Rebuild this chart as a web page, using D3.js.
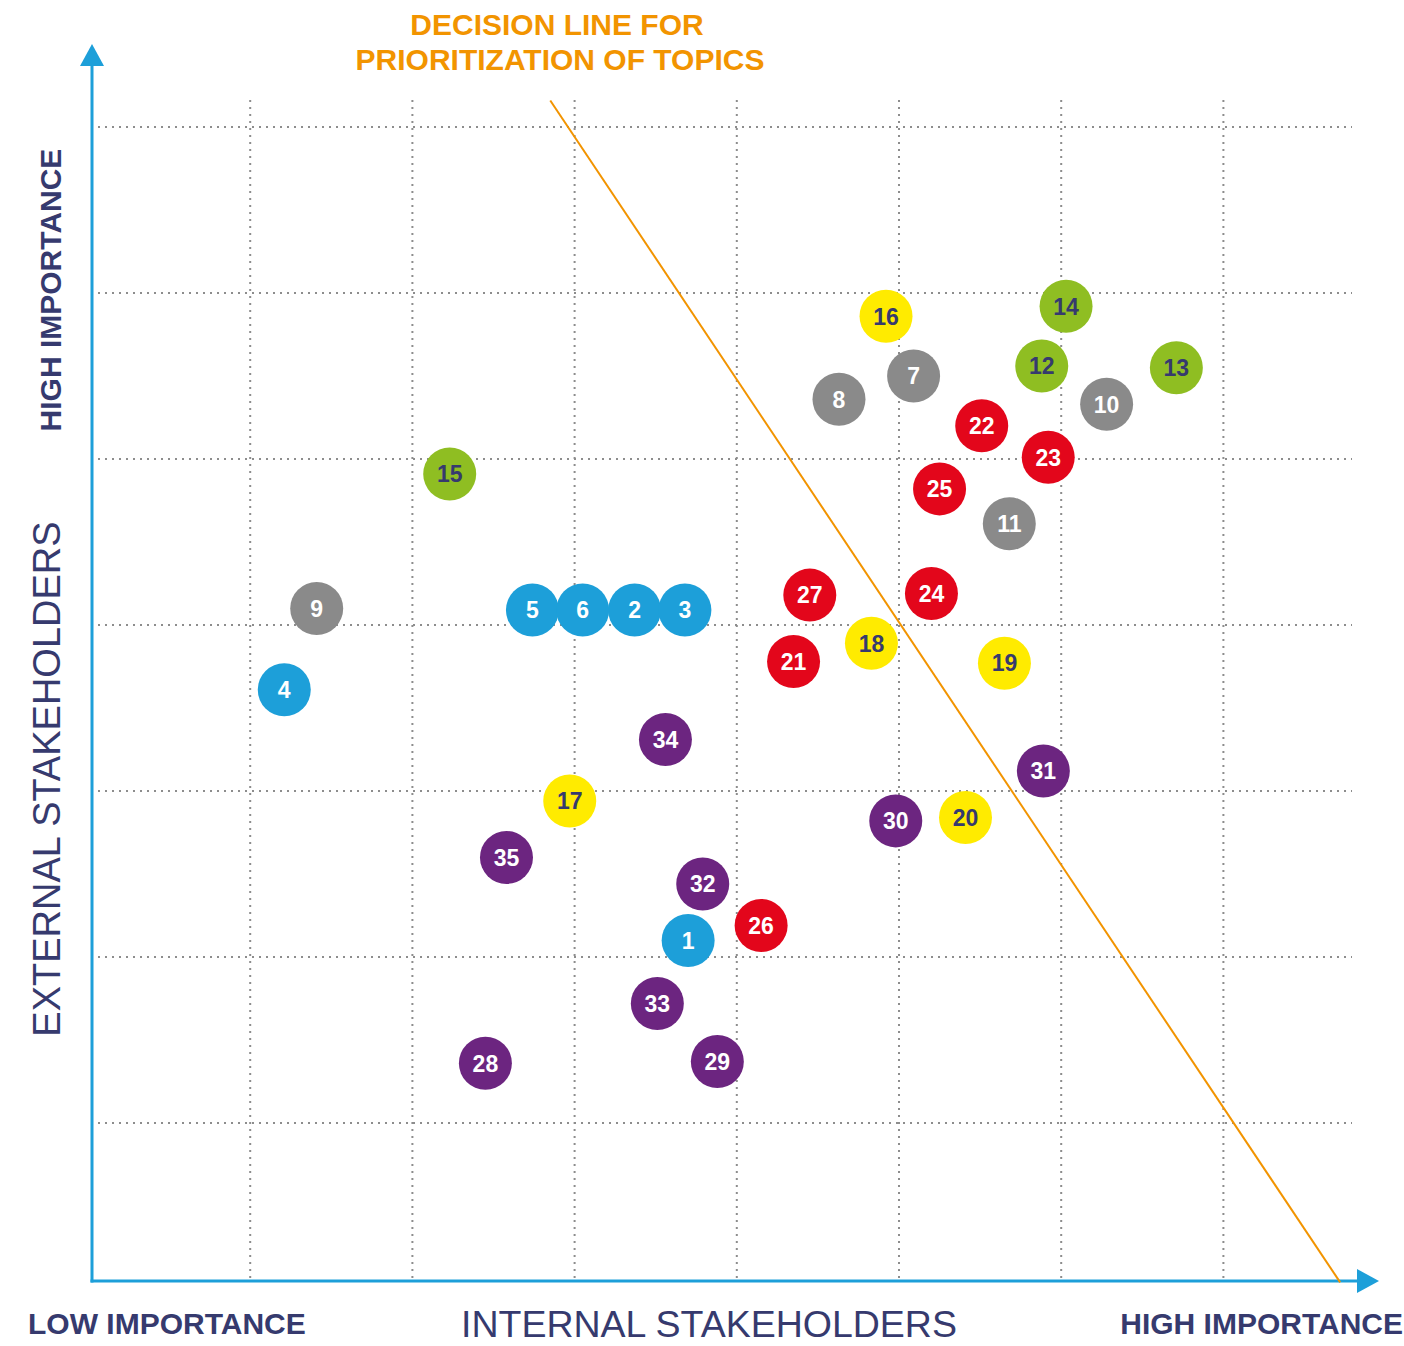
<!DOCTYPE html>
<html>
<head>
<meta charset="utf-8">
<script src="https://cdn.jsdelivr.net/npm/d3@7"></script>
<style>
  html, body { margin: 0; padding: 0; background: #ffffff; }
  svg { display: block; }
  text { font-family: "Liberation Sans", Arial, sans-serif; }
</style>
</head>
<body>
<svg id="chart" width="1404" height="1346"></svg>
<script>
// Topic ids, grouped by category
const topics = [1,2,3,4,5,6,7,8,9,10,11,12,13,14,15,16,17,18,19,20,21,22,23,24,25,26,27,28,29,30,31,32,33,34,35];
const groups = ["blue","blue","blue","blue","blue","blue","gray","gray","gray","gray","gray","green","green","green","green",
                "yellow","yellow","yellow","yellow","yellow","red","red","red","red","red","red","red",
                "purple","purple","purple","purple","purple","purple","purple","purple"];
// Importance for internal stakeholders (x) and external stakeholders (y), grid units 0–8
const internalScore = [3.70,3.37,3.68,1.21,2.74,3.05,5.09,4.63,1.41,6.28,5.68,5.88,6.71,6.03,2.23,
                       4.92,2.97,4.83,5.65,5.41,4.35,5.51,5.92,5.20,5.25,4.15,4.45,
                       2.45,3.88,4.98,5.89,3.79,3.51,3.56,2.58];
const externalScore = [2.10,4.09,4.09,3.61,4.09,4.09,5.50,5.36,4.10,5.33,4.61,5.56,5.55,5.92,4.91,
                       5.86,2.94,3.89,3.77,2.84,3.78,5.20,5.01,4.19,4.82,2.19,4.18,
                       1.36,1.37,2.82,3.12,2.44,1.72,3.31,2.60];
const gridTicks = [1,2,3,4,5,6,7];
// Decision line end points (grid units)
const decisionX = [2.85, 7.72];
const decisionY = [7.16, 0.04];

const palette = {
  blue:   { fill: "#1d9fd9", text: "#ffffff" },
  gray:   { fill: "#8a8a8a", text: "#ffffff" },
  green:  { fill: "#8fbe22", text: "#363a6e" },
  yellow: { fill: "#ffeb00", text: "#363a6e" },
  red:    { fill: "#e3061b", text: "#ffffff" },
  purple: { fill: "#6c2580", text: "#ffffff" }
};

const svg = d3.select("#chart");
const x = d3.scaleLinear().domain([0, 8]).range([88, 1385.6]);
const y = d3.scaleLinear().domain([0, 8]).range([1289, -39]);

const axisColor = "#1d9fd9";
const navy = "#363a6e";
const orange = "#f29400";

// Dotted grid
const grid = svg.append("g");
grid.selectAll("line.v").data(gridTicks).join("line")
  .attr("x1", d => x(d)).attr("x2", d => x(d))
  .attr("y1", 100).attr("y2", 1279)
  .attr("stroke", "#8d8d8d").attr("stroke-width", 2)
  .attr("stroke-dasharray", "2,5");
grid.selectAll("line.h").data(gridTicks).join("line")
  .attr("x1", 98).attr("x2", 1352)
  .attr("y1", d => y(d)).attr("y2", d => y(d))
  .attr("stroke", "#8d8d8d").attr("stroke-width", 2)
  .attr("stroke-dasharray", "2,5");

// Axes with arrow heads
const ax0 = 92, ay0 = 1281;
svg.append("line").attr("x1", ax0).attr("y1", ay0 + 1.5).attr("x2", ax0).attr("y2", 60)
  .attr("stroke", axisColor).attr("stroke-width", 3);
svg.append("path").attr("d", `M${ax0},44 L${ax0 - 12},66 L${ax0 + 12},66 Z`).attr("fill", axisColor);
svg.append("line").attr("x1", ax0 - 1.5).attr("y1", ay0).attr("x2", 1362).attr("y2", ay0)
  .attr("stroke", axisColor).attr("stroke-width", 3);
svg.append("path").attr("d", `M1379,${ay0} L1357,${ay0 - 12} L1357,${ay0 + 12} Z`).attr("fill", axisColor);

// Decision line
svg.append("line")
  .attr("x1", x(decisionX[0])).attr("y1", y(decisionY[0]))
  .attr("x2", x(decisionX[1])).attr("y2", y(decisionY[1]))
  .attr("stroke", orange).attr("stroke-width", 2);

// Bubbles
const data = topics.map((id, i) => ({ id, group: groups[i], ix: internalScore[i], ex: externalScore[i] }));
const bubbles = svg.append("g").selectAll("g").data(data).join("g")
  .attr("transform", d => `translate(${x(d.ix)},${y(d.ex)})`);
bubbles.append("circle").attr("r", 26.5).attr("fill", d => palette[d.group].fill);
bubbles.append("text")
  .attr("text-anchor", "middle").attr("dy", "0.36em")
  .attr("font-size", 23).attr("font-weight", "bold")
  .attr("fill", d => palette[d.group].text)
  .text(d => d.id);

// Title of the decision line
const title = svg.append("text").attr("text-anchor", "middle")
  .attr("font-size", 30).attr("font-weight", "bold").attr("fill", orange);
title.append("tspan").attr("x", 557).attr("y", 35).text("DECISION LINE FOR");
title.append("tspan").attr("x", 560).attr("y", 70).text("PRIORITIZATION OF TOPICS");

// Axis labels
svg.append("text").attr("x", 28).attr("y", 1334)
  .attr("font-size", 30).attr("font-weight", "bold").attr("fill", navy)
  .text("LOW IMPORTANCE");
svg.append("text").attr("x", 1403).attr("y", 1334).attr("text-anchor", "end")
  .attr("font-size", 30).attr("font-weight", "bold").attr("fill", navy)
  .text("HIGH IMPORTANCE");
svg.append("text").attr("x", 709).attr("y", 1337).attr("text-anchor", "middle")
  .attr("font-size", 37.5).attr("fill", navy)
  .text("INTERNAL STAKEHOLDERS");
svg.append("text").attr("transform", "translate(61,290) rotate(-90)").attr("text-anchor", "middle")
  .attr("font-size", 30).attr("font-weight", "bold").attr("fill", navy)
  .text("HIGH IMPORTANCE");
svg.append("text").attr("transform", "translate(60,779) rotate(-90)").attr("text-anchor", "middle")
  .attr("font-size", 38).attr("fill", navy)
  .text("EXTERNAL STAKEHOLDERS");
</script>
</body>
</html>
